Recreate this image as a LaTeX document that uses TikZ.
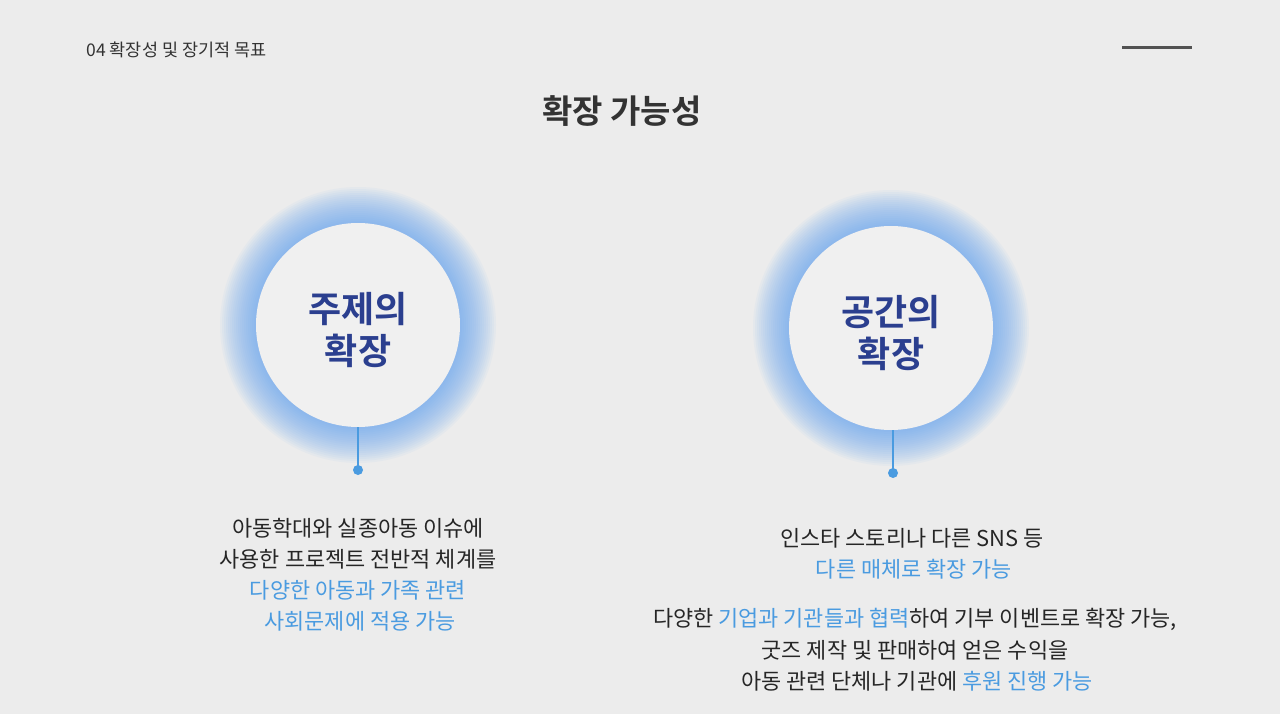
\documentclass[tikz,border=0pt]{standalone}
\usepackage{fontspec}
\setmainfont{Noto Sans CJK KR}
\newfontfamily\kb{Noto Sans CJK KR Bold}
\definecolor{bg}{HTML}{ECECEC}
\definecolor{dk}{HTML}{333333}
\definecolor{nav}{HTML}{2B3F8F}
\definecolor{lb}{HTML}{4A9BE0}
\definecolor{glow}{HTML}{5AA0F0}
\tikzset{txt/.style={font=\fontsize{21.9}{21.9}\selectfont,text=black!85,anchor=center,inner sep=0},
 bl/.style={text=lb},
 ctext/.style={font=\kb\fontsize{36}{42}\selectfont,text=nav,align=center},
 circ/.style={fill=bg!80!white,draw=none}}
\begin{document}
\begin{tikzpicture}[x=1pt,y=-1pt]
\fill[bg] (0,0) rectangle (1280,714);
\useasboundingbox (0,0) rectangle (1280,714);
\node[anchor=west,font=\fontsize{17.5}{17.5}\selectfont,text=dk] (hdr) at (83,50) {04 확장성 및 장기적 목표};
\draw[line width=3pt,dk!85] (1122,48) -- (1192,48);
\node[font=\kb\fontsize{33}{33}\selectfont,text=dk] (title) at (622,111) {확장 가능성};
\foreach \cx/\cy/\nm/\a/\b in {358/325/c1/주제의/확장, 891/328/c2/공간의/확장}{
  \foreach \r in {138,136,...,103}{\fill[glow,opacity=0.05] (\cx,\cy) circle (\r);}
  \node[circle,circ,minimum size=204pt] (\nm) at (\cx,\cy) {};
  \node[ctext] at (\cx,\cy+5) {\a\\\b};
}
\coordinate (d1) at (358,470);
\coordinate (d2) at (893,473);
\draw[lb,line width=1.2pt] (c1.south) -- (d1);
\draw[lb,line width=1.2pt] (893,430) -- (d2);
\fill[lb] (d1) circle (5); \fill[lb] (d2) circle (5);
\node[txt] (l1) at (358,528) {아동학대와 실종아동 이슈에};
\node[txt] (l2) at (358,559) {사용한 프로젝트 전반적 체계를};
\node[txt,bl] (l3) at (358,590) {다양한 아동과 가족 관련};
\node[txt,bl] (l4) at (360,621) {사회문제에 적용 가능};
\node[txt] (r1) at (912,538) {인스타 스토리나 다른 SNS 등};
\node[txt,bl] (r2) at (914,569) {다른 매체로 확장 가능};
\node[txt] (r3) at (915,619) {다양한 \textcolor{lb}{기업과 기관들과 협력}하여 기부 이벤트로 확장 가능,};
\node[txt] (r4) at (915,650) {굿즈 제작 및 판매하여 얻은 수익을};
\node[txt] (r5) at (917,681) {아동 관련 단체나 기관에 \textcolor{lb}{후원 진행 가능}};
\end{tikzpicture}
\end{document}
